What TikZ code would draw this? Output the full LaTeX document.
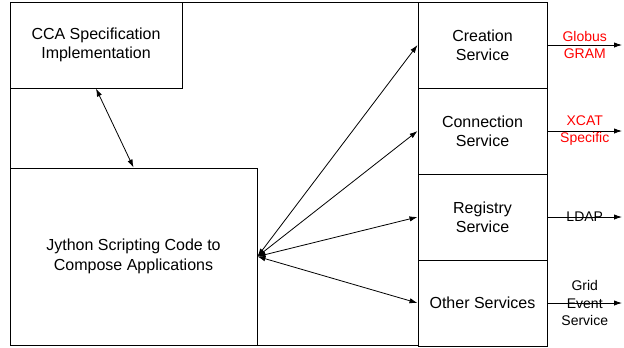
\documentclass[tikz,border=0pt]{standalone}
\usepackage{fontspec}
\setmainfont{Liberation Sans}
\usetikzlibrary{arrows.meta}

\begin{document}
\begin{tikzpicture}[x=0.75pt,y=0.75pt,yscale=-1,xscale=1,
  box/.style={draw,line width=0.75pt,inner sep=0.75pt,align=center,
    font=\fontsize{12}{14.5}\selectfont},
  svcbox/.style={box,minimum width=96.75pt,minimum height=64.5pt},
  link/.style={line width=0.6pt,{Latex[length=6pt,width=4pt]}-{Latex[length=6pt,width=4pt]}},
  outlink/.style={line width=0.6pt,-{Latex[length=6pt,width=4pt]}},
  tag/.style={inner sep=0.75pt,align=center,font=\fontsize{10.5}{12.8}\selectfont}]
\useasboundingbox (0,0) rectangle (624,347);

%Outer frame
\draw [line width=0.75pt] (10,2) rectangle (418,345);

% Boxes
\node [box,minimum width=129pt,minimum height=64.5pt] (cca) at (96,45) {CCA Specification\\Implementation};
\node [box,minimum width=185.25pt,minimum height=132.75pt] (jython) at (133.5,256.5) {Jython Scripting Code to\\Compose Applications};

% Service column
\node [svcbox] (creation) at (482.5,45) {Creation\\Service};
\node [svcbox] (connection) at (482.5,131) {Connection\\Service};
\node [svcbox] (registry) at (482.5,217) {Registry\\Service};
\node [svcbox] (other) at (482.5,303) {Other Services};

% Outgoing ends
\coordinate (globusend) at (622,45);
\coordinate (xcatend) at (622,131);
\coordinate (ldapend) at (622,217);
\coordinate (gridend) at (622,303);

%Straight Lines
\draw [link] (cca.south) -- (jython.north);
\draw [link] (jython.east) -- (creation.west);
\draw [link] (jython.east) -- (connection.west);
\draw [link] (jython.east) -- (registry.west);
\draw [link] (jython.east) -- (other.west);

\draw [outlink] (creation.east) -- (globusend) node [tag,midway,text=red] {Globus\\GRAM};
\draw [outlink] (connection.east) -- (xcatend) node [tag,midway,text=red] {XCAT\\Specific};
\draw [outlink] (registry.east) -- (ldapend) node [tag,midway] {LDAP};
\draw [outlink] (other.east) -- (gridend) node [tag,midway] {Grid\\Event\\Service};

\end{tikzpicture}
\end{document}
